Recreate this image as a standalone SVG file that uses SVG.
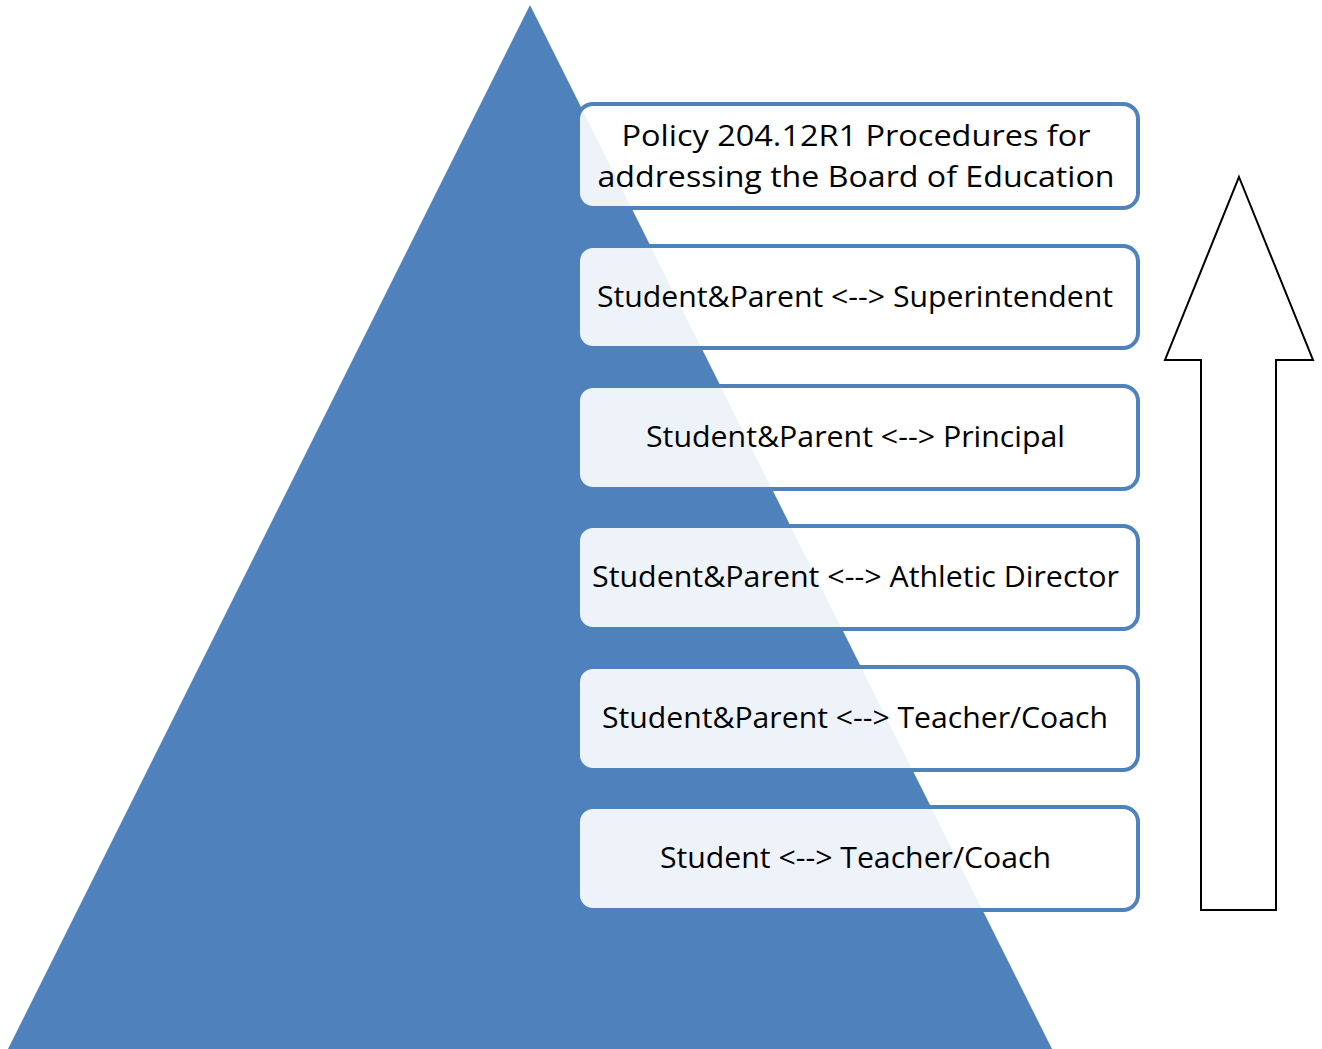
<svg xmlns="http://www.w3.org/2000/svg" width="1322" height="1049" viewBox="0 0 1322 1049">
<style>
.box{fill:#ffffff;fill-opacity:0.9;stroke:#4F81BD;stroke-width:4}
.t{font-family:"Open Sans","Noto Sans",sans-serif;font-size:30px;fill:#000;text-anchor:middle}
</style>
<rect width="1322" height="1049" fill="#ffffff"/>
<g id="pyramid"><polygon points="530,5 8,1049 1052,1049" fill="#4F81BD"/></g>
<g id="n1"><rect class="box" x="578" y="104" width="560" height="104" rx="15"/>
<text class="t" x="856" y="146" textLength="469" lengthAdjust="spacingAndGlyphs">Policy 204.12R1 Procedures for</text>
<text class="t" x="856" y="187" textLength="517" lengthAdjust="spacingAndGlyphs">addressing the Board of Education</text></g>
<g id="n2"><rect class="box" x="578" y="246" width="560" height="102" rx="15"/>
<text class="t" x="855" y="307" textLength="516" lengthAdjust="spacingAndGlyphs">Student&amp;Parent &lt;--&gt; Superintendent</text></g>
<g id="n3"><rect class="box" x="578" y="386" width="560" height="103" rx="15"/>
<text class="t" x="855.500" y="447" textLength="419" lengthAdjust="spacingAndGlyphs">Student&amp;Parent &lt;--&gt; Principal</text></g>
<g id="n4"><rect class="box" x="578" y="526" width="560" height="103" rx="15"/>
<text class="t" x="855.500" y="587" textLength="527" lengthAdjust="spacingAndGlyphs">Student&amp;Parent &lt;--&gt; Athletic Director</text></g>
<g id="n5"><rect class="box" x="578" y="667" width="560" height="103" rx="15"/>
<text class="t" x="855" y="728" textLength="506" lengthAdjust="spacingAndGlyphs">Student&amp;Parent &lt;--&gt; Teacher/Coach</text></g>
<g id="n6"><rect class="box" x="578" y="807" width="560" height="103" rx="15"/>
<text class="t" x="855.500" y="868" textLength="391" lengthAdjust="spacingAndGlyphs">Student &lt;--&gt; Teacher/Coach</text></g>
<g id="connectors"><polygon points="1239,177 1313,360 1276,360 1276,910 1201,910 1201,360 1165,360" fill="#ffffff" stroke="#000000" stroke-width="2"/></g>
</svg>
